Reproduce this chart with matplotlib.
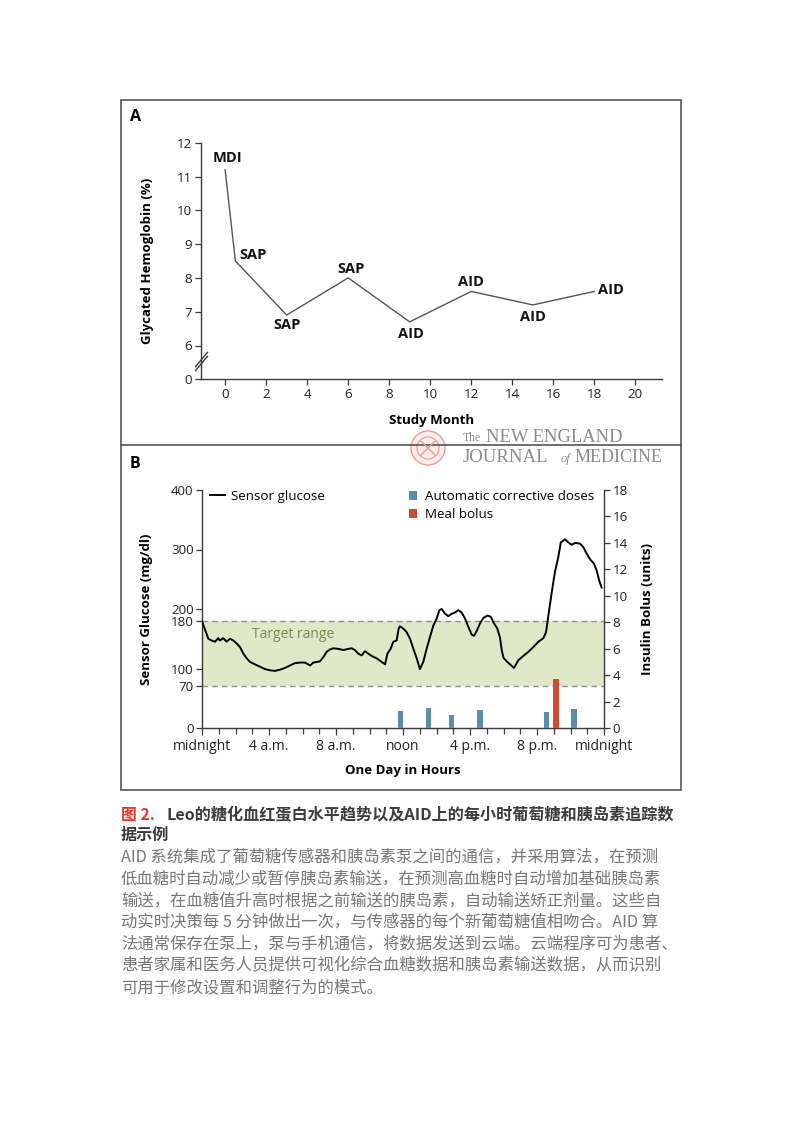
import matplotlib
matplotlib.use('Agg')
import matplotlib.pyplot as plt
from matplotlib.patches import Rectangle, Circle
from matplotlib.lines import Line2D
import matplotlib.transforms as mtransforms

plt.rcParams['font.family'] = ['Open Sans', 'DejaVu Sans']
CJK = ['Noto Sans CJK SC', 'DejaVu Sans']

# ---------------- Panel A data ----------------
study_month = [0, 0.5, 3, 6, 9, 12, 15, 18]
hba1c = [11.2, 8.5, 6.9, 8.0, 6.7, 7.6, 7.2, 7.6]
therapy = ['MDI', 'SAP', 'SAP', 'SAP', 'AID', 'AID', 'AID', 'AID']
a_yticks = [5, 6, 7, 8, 9, 10, 11, 12]
a_yticklabels = ['0', '6', '7', '8', '9', '10', '11', '12']
a_xticks = [0, 2, 4, 6, 8, 10, 12, 14, 16, 18, 20]

# ---------------- Panel B data ----------------
hours = [0.0, 0.38, 0.58, 0.78, 0.97, 1.07, 1.27, 1.47, 1.67, 1.87, 2.07, 2.27, 2.47, 2.67,
         2.87, 3.16, 3.46, 3.76, 4.06, 4.36, 4.66, 4.96, 5.25, 5.55, 5.85, 6.15, 6.45, 6.65,
         6.85, 7.04, 7.24, 7.44, 7.64, 7.84, 8.14, 8.44, 8.74, 8.94, 9.13, 9.33, 9.53, 9.73,
         9.93, 10.13, 10.43, 10.73, 10.93, 11.07, 11.26, 11.42, 11.62, 11.74, 11.82, 12.02,
         12.22, 12.42, 12.62, 12.82, 13.01, 13.21, 13.41, 13.61, 13.81, 14.01, 14.17, 14.31,
         14.51, 14.71, 14.91, 15.10, 15.30, 15.50, 15.70, 15.90, 16.10, 16.24, 16.40, 16.60,
         16.80, 17.04, 17.24, 17.39, 17.63, 17.79, 17.90, 18.0, 18.19, 18.39, 18.63, 18.89,
         19.18, 19.48, 19.78, 20.08, 20.38, 20.54, 20.68, 20.88, 21.07, 21.27, 21.42, 21.67,
         21.87, 22.07, 22.27, 22.57, 22.76, 22.97, 23.16, 23.40, 23.56, 23.71, 23.86]
glucose = [179, 150, 147, 145, 151, 147, 151, 145, 150, 147, 142, 136, 125, 117,
           111, 107, 103, 99, 97, 96, 98, 101, 105, 109, 110, 110, 105, 110,
           111, 112, 119, 128, 132, 134, 133, 131, 133, 134, 131, 125, 122, 129,
           125, 121, 117, 111, 107, 125, 133, 145, 147, 167, 171, 167,
           161, 150, 133, 117, 99, 111, 133, 153, 172, 184, 198, 200,
           192, 188, 192, 194, 198, 194, 184, 170, 157, 155, 163, 176,
           185, 189, 187, 178, 167, 152, 130, 118, 112, 107, 101, 114,
           121, 128, 136, 145, 151, 161, 189, 228, 262, 287, 312, 317,
           312, 308, 311, 310, 304, 293, 284, 276, 265, 248, 236]
auto_hours = [11.86, 13.52, 14.9, 16.59, 20.57, 22.2]
auto_units = [1.28, 1.51, 1.0, 1.38, 1.23, 1.44]
meal_hours = [21.12]
meal_units = [3.7]
target_low, target_high = 70, 180
b_yticks = [0, 70, 100, 180, 200, 300, 400]
b_rticks = [0, 2, 4, 6, 8, 10, 12, 14, 16, 18]
b_xticks = [0, 4, 8, 12, 16, 20, 24]
b_xticklabels = ['midnight', '4 a.m.', '8 a.m.', 'noon', '4 p.m.', '8 p.m.', 'midnight']

caption_title_1 = 'Leo的糖化血红蛋白水平趋势以及AID上的每小时葡萄糖和胰岛素追踪数'
caption_title_2 = '据示例'
caption_body = [
    'AID 系统集成了葡萄糖传感器和胰岛素泵之间的通信，并采用算法，在预测',
    '低血糖时自动减少或暂停胰岛素输送，在预测高血糖时自动增加基础胰岛素',
    '输送，在血糖值升高时根据之前输送的胰岛素，自动输送矫正剂量。这些自',
    '动实时决策每 5 分钟做出一次，与传感器的每个新葡萄糖值相吻合。AID 算',
    '法通常保存在泵上，泵与手机通信，将数据发送到云端。云端程序可为患者、',
    '患者家属和医务人员提供可视化综合血糖数据和胰岛素输送数据，从而识别',
    '可用于修改设置和调整行为的模式。',
]

W, H = 793, 1122
fig = plt.figure(figsize=(W / 100, H / 100), dpi=100)


def rect(x0, y0, x1, y1):
    return [x0 / W, 1 - y1 / H, (x1 - x0) / W, (y1 - y0) / H]


def fx(x):
    return x / W


def fy(y):
    return 1 - y / H


AX = '#3a3a3a'
TICK = dict(labelsize=9.6, length=4, width=0.9, color=AX, labelcolor='#222222', pad=2)

# ---------------- Panel A ----------------
axA = fig.add_axes(rect(200.7, 142.7, 662, 379.3))
axA.plot(study_month, hba1c, color='#555555', lw=1.0)
axA.set_xlim(-1.19, 21.3)
axA.set_ylim(5, 12)
axA.set_xticks(a_xticks)
axA.set_yticks(a_yticks, a_yticklabels)
for s in ['top', 'right']:
    axA.spines[s].set_visible(False)
for s in ['left', 'bottom']:
    axA.spines[s].set_color(AX)
    axA.spines[s].set_linewidth(1.0)
axA.tick_params(**TICK)
axA.set_xlabel('Study Month', fontsize=9.5, fontweight='bold', va='center')
axA.xaxis.set_label_coords(0.5, -0.176)
axA.set_ylabel('Glycated Hemoglobin (%)', fontsize=9.5, fontweight='bold', va='center')
axA.yaxis.set_label_coords(-0.116, 0.5)

# label offsets (points) and alignment per point
lab_off = [(2, 8.5, 'center'), (3, 4, 'left'), (0, -7, 'center'), (2, 6.5, 'center'),
           (1, -8.5, 'center'), (0, 7, 'center'), (0, -8.5, 'center'), (3, 1, 'left')]
for m, v, t, (dx, dy, ha) in zip(study_month, hba1c, therapy, lab_off):
    axA.annotate(t, (m, v), xytext=(dx, dy), textcoords='offset points', ha=ha,
                 va='center', fontsize=10.5, fontweight='bold', color='#111111')

# axis break marks
brk_y = 5.54
for off in (-1.6, 1.6):
    tr = mtransforms.offset_copy(axA.get_yaxis_transform(), fig=fig, x=0, y=off, units='points')
    axA.plot([0], [brk_y], transform=tr, marker=[(-1, -1.2), (1, 1.2)], markersize=11,
             markeredgewidth=1.0, color=AX, clip_on=False, linestyle='none')

# ---------------- Panel B ----------------
axB = fig.add_axes(rect(202, 490, 604, 728))
axB.axhspan(target_low, target_high, color='#dfe9c8', lw=0, zorder=0)
for v in (target_low, target_high):
    axB.axhline(v, color='#8e8e8e', lw=1.0, ls=(0, (4, 3)), zorder=1)
line, = axB.plot(hours, glucose, color='black', lw=1.4, label='Sensor glucose', zorder=3)
axB.set_xlim(0, 24)
axB.set_ylim(0, 400)
axB.set_yticks(b_yticks)
axB.set_xticks(b_xticks, b_xticklabels)
axB.set_xticks(range(0, 25), minor=True)
axB.tick_params(**TICK)
axB.tick_params(axis='x', which='major', length=5, pad=3, labelsize=10)
axB.tick_params(axis='x', which='minor', length=4, width=0.9, color=AX)
for s in ['top', 'right']:
    axB.spines[s].set_visible(False)
for s in ['left', 'bottom']:
    axB.spines[s].set_color(AX)
    axB.spines[s].set_linewidth(1.0)
axB.text(3.0, 157, 'Target range', color='#7a8a52', fontsize=10, va='center', ha='left')
axB.set_xlabel('One Day in Hours', fontsize=9.5, fontweight='bold', va='center')
axB.xaxis.set_label_coords(0.5, -0.178)
axB.set_ylabel('Sensor Glucose (mg/dl)', fontsize=9.5, fontweight='bold', va='center')
axB.yaxis.set_label_coords(-0.137, 0.5)

axR = axB.twinx()
axR.set_ylim(0, 18)
axR.set_yticks(b_rticks)
b1 = axR.bar(auto_hours, auto_units, width=0.33, color='#5b8fa8', label='Automatic corrective doses', zorder=2)
b2 = axR.bar(meal_hours, meal_units, width=0.36, color='#d04a32', label='Meal bolus', zorder=2)
for s in ['top', 'left', 'bottom']:
    axR.spines[s].set_visible(False)
axR.spines['right'].set_color(AX)
axR.spines['right'].set_linewidth(1.0)
axR.tick_params(**TICK)
axR.set_ylabel('Insulin Bolus (units)', fontsize=9.5, fontweight='bold', va='center', rotation=90)
axR.yaxis.set_label_coords(1.109, 0.5)

leg1 = axR.legend(handles=[line], loc='upper left', bbox_to_anchor=(0.02, 1.0), frameon=False,
                  fontsize=9.6, handlelength=1.1, handletextpad=0.5, borderpad=0, borderaxespad=0)
axR.add_artist(leg1)
axR.legend(handles=[b1, b2], loc='upper left', bbox_to_anchor=(0.515, 1.0), frameon=False,
           fontsize=9.6, handlelength=0.62, handleheight=0.7, handletextpad=0.55,
           labelspacing=0.4, borderpad=0, borderaxespad=0)

# ---------------- frame, panel letters ----------------
fig.add_artist(Rectangle((fx(121), fy(790)), (681 - 121) / W, (790 - 100) / H,
                         transform=fig.transFigure, fill=False, edgecolor='#555555', lw=1.2))
fig.add_artist(Line2D([fx(121), fx(681)], [fy(445), fy(445)], transform=fig.transFigure,
                      color='#555555', lw=1.2))
fig.text(fx(130), fy(117), 'A', fontsize=11.5, fontweight='bold', va='center', ha='left')
fig.text(fx(130), fy(464), 'B', fontsize=11.5, fontweight='bold', va='center', ha='left')

# NEJM logo
seal_c = (4.28, (H - 448) / 100)
fig.add_artist(Circle(seal_c, 0.17, transform=fig.dpi_scale_trans, facecolor='#fcecea',
                      edgecolor='#e49b96', lw=1.0))
fig.add_artist(Circle(seal_c, 0.11, transform=fig.dpi_scale_trans, facecolor='none',
                      edgecolor='#e49b96', lw=0.8))
for sgn in (1, -1):
    fig.add_artist(Line2D([seal_c[0] - 0.07, seal_c[0] + 0.07],
                          [seal_c[1] - 0.07 * sgn, seal_c[1] + 0.07 * sgn],
                          transform=fig.dpi_scale_trans, color='#e49b96', lw=1.0))
SERIF = ['Liberation Serif', 'DejaVu Serif']
NJ = dict(family=SERIF, color='#8c8c8c', va='center', ha='left')
fig.text(fx(463), fy(438), 'The', fontsize=8.5, **NJ)
fig.text(fx(486), fy(438), 'NEW ENGLAND', fontsize=13.3, **NJ)
fig.text(fx(463), fy(458), 'JOURNAL', fontsize=13.6, **NJ)
fig.text(fx(561), fy(459), 'of', fontsize=9, style='italic', **NJ)
fig.text(fx(575), fy(458), 'MEDICINE', fontsize=13.0, **NJ)

# ---------------- caption ----------------
fig.text(fx(121), fy(815), '图 2.', family=CJK, fontsize=11.4, fontweight='bold', color='#e0392e', va='center')
fig.text(fx(166), fy(815), caption_title_1, family=CJK, fontsize=11.6, fontweight='bold', color='#3c3c3c', va='center')
fig.text(fx(121), fy(835), caption_title_2, family=CJK, fontsize=11.6, fontweight='bold', color='#3c3c3c', va='center')
for i, ln in enumerate(caption_body):
    fig.text(fx(121), fy(857 + 21.8 * i), ln, family=CJK, fontsize=11.75, color='#777777', va='center')

fig.savefig('out.png', dpi=100)
